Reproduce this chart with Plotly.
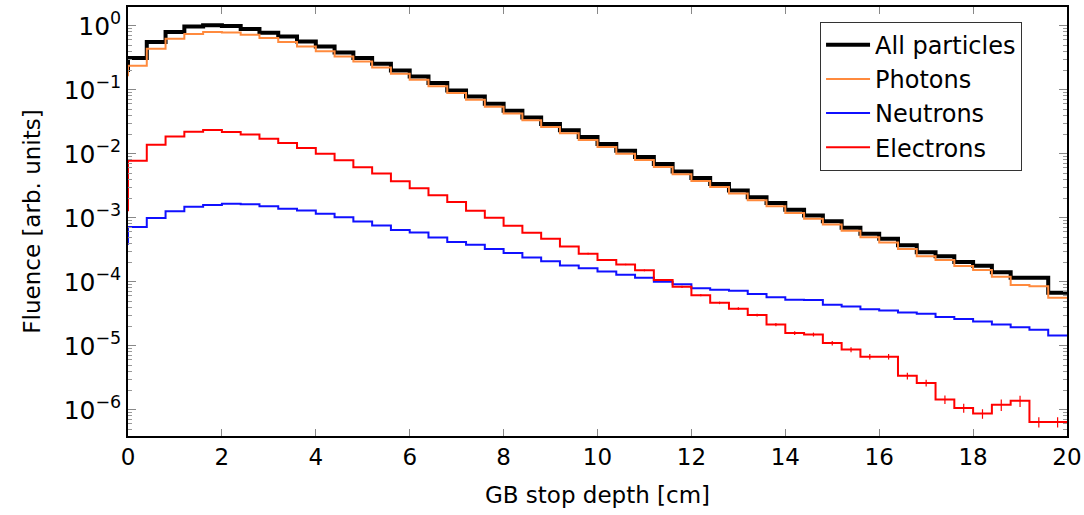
import numpy as np
import plotly.graph_objects as go

# bin edges: 50 bins of 0.4 cm from 0 to 20 cm
bin_width = 0.4
n_bins = 50
edges = np.round(np.arange(n_bins + 1) * bin_width, 3)
centers = edges[:-1] + bin_width / 2

all_start = 0.19
all_particles = [0.313, 0.556, 0.796, 0.977, 1.02, 0.99, 0.887, 0.778, 0.681, 0.569,
                 0.475, 0.383, 0.313, 0.255, 0.200, 0.161, 0.127, 0.0977, 0.0782, 0.0604,
                 0.0470, 0.0370, 0.0291, 0.0232, 0.0182, 0.0142, 0.0111, 0.00887, 0.00690, 0.00530,
                 0.00417, 0.00336, 0.00267, 0.00210, 0.00170, 0.00133, 0.00108, 0.000881, 0.000700, 0.000562,
                 0.000468, 0.000372, 0.000288, 0.000251, 0.000204, 0.000178, 0.000141, 0.000115, 0.000115, 0.0000676]

photon_start = 0.162
photons = [0.237, 0.437, 0.627, 0.741, 0.796, 0.787, 0.724, 0.641, 0.556, 0.475,
           0.398, 0.331, 0.277, 0.223, 0.178, 0.143, 0.113, 0.0887, 0.0698, 0.0543,
           0.0424, 0.0333, 0.0262, 0.0209, 0.0164, 0.0128, 0.0100, 0.0080, 0.00622, 0.00478,
           0.00376, 0.00302, 0.00240, 0.00188, 0.00151, 0.00119, 0.000966, 0.000785, 0.000624, 0.000495,
           0.000412, 0.000324, 0.000251, 0.000219, 0.000176, 0.000153, 0.000120, 0.0000891, 0.0000851, 0.0000562]

neutron_start = 0.00038
neutrons = [0.000714, 0.000989, 0.00126, 0.00148, 0.00158, 0.00166, 0.00162, 0.00151, 0.00138, 0.00130,
            0.00115, 0.00102, 0.000871, 0.000759, 0.000646, 0.000589, 0.000490, 0.000417, 0.000380, 0.000324,
            0.000282, 0.000240, 0.000209, 0.000180, 0.000162, 0.000145, 0.000129, 0.000115, 0.000100, 0.0000912,
            0.0000794, 0.0000750, 0.0000724, 0.0000646, 0.0000575, 0.0000525, 0.0000519, 0.0000437, 0.0000412, 0.0000372,
            0.0000355, 0.0000331, 0.0000316, 0.0000282, 0.0000263, 0.0000240, 0.0000214, 0.0000195, 0.0000178, 0.0000145]

electron_start = 0.00126
electrons = [0.00776, 0.0138, 0.0186, 0.0221, 0.0234, 0.0219, 0.0200, 0.0171, 0.0147, 0.0123,
             0.0100, 0.00794, 0.00617, 0.00490, 0.00372, 0.00288, 0.00224, 0.00176, 0.00129, 0.00100,
             0.000750, 0.000582, 0.000468, 0.000355, 0.000275, 0.000219, 0.000186, 0.000151, 0.000107, 0.0000832,
             0.0000617, 0.0000468, 0.0000380, 0.0000302, 0.0000214, 0.0000158, 0.0000150, 0.0000110, 0.00000871, 0.00000676,
             0.00000676, 0.00000339, 0.00000263, 0.00000145, 0.00000107, 0.000000871, 0.00000120, 0.00000138, 0.000000646, 0.000000646]

# relative statistical uncertainty on electrons (visible from bin 24 on)
electron_err_rel = [0.0] * 24 + [0.03, 0.03, 0.03, 0.035, 0.035, 0.04, 0.04, 0.045, 0.05, 0.05,
                                 0.06, 0.07, 0.07, 0.08, 0.09, 0.1, 0.1, 0.12, 0.12, 0.15,
                                 0.16, 0.17, 0.2, 0.2, 0.18, 0.18]

y_tick_vals = [1, 1e-1, 1e-2, 1e-3, 1e-4, 1e-5, 1e-6]
y_tick_text = ["10<sup>0</sup>", "10<sup>−1</sup>", "10<sup>−2</sup>", "10<sup>−3</sup>",
               "10<sup>−4</sup>", "10<sup>−5</sup>", "10<sup>−6</sup>"]
x_tick_vals = [0, 2, 4, 6, 8, 10, 12, 14, 16, 18, 20]

series = [
    ("All particles", all_start, all_particles, "#000000", 4),
    ("Photons", photon_start, photons, "#ff8a3d", 2),
    ("Neutrons", neutron_start, neutrons, "#1010ff", 2),
    ("Electrons", electron_start, electrons, "#ff0000", 2),
]

FONT = "DejaVu Sans, sans-serif"

fig = go.Figure()
for name, start, vals, color, width in series:
    xs = [edges[0]] + list(edges)
    ys = [start] + list(vals) + [vals[-1]]
    fig.add_trace(go.Scatter(x=xs, y=ys, mode="lines", name=name,
                             line=dict(color=color, width=width, shape="hv")))

err_idx = [i for i, e in enumerate(electron_err_rel) if e > 0]
fig.add_trace(go.Scatter(
    x=[centers[i] for i in err_idx],
    y=[electrons[i] for i in err_idx],
    mode="markers", marker=dict(size=1, color="rgba(0,0,0,0)"),
    error_y=dict(type="data", array=[electrons[i] * electron_err_rel[i] for i in err_idx],
                 color="#ff0000", thickness=1.2, width=0),
    showlegend=False, hoverinfo="skip"))

fig.update_layout(
    width=1084, height=515,
    margin=dict(l=128, r=17, t=7, b=79, autoexpand=False),
    paper_bgcolor="white", plot_bgcolor="white",
    font=dict(family=FONT, size=23, color="black"),
    legend=dict(x=0.737, y=0.966, xanchor="left", yanchor="top",
                bgcolor="white", bordercolor="#333333", borderwidth=1,
                font=dict(family=FONT, size=24), tracegroupgap=0, itemwidth=44),
    showlegend=True,
)
fig.update_xaxes(
    range=[0, 20], tickvals=x_tick_vals, ticks="inside", ticklen=7, tickcolor="#888888",
    showline=True, linecolor="black", linewidth=1.5, mirror="ticks", showgrid=False, zeroline=False,
    title=dict(text="GB stop depth [cm]", font=dict(family=FONT, size=23), standoff=18),
    tickfont=dict(family=FONT, size=23),
)
fig.update_yaxes(
    type="log", range=[-6.41, 0.293], tickvals=y_tick_vals, ticktext=y_tick_text,
    ticks="inside", ticklen=8, tickcolor="#888888",
    minor=dict(ticks="inside", ticklen=4, tickcolor="#999999", dtick="D1", showgrid=False),
    showline=True, linecolor="black", linewidth=1.5, mirror="ticks", showgrid=False, zeroline=False,
    title=dict(text="Fluence [arb. units]", font=dict(family=FONT, size=23), standoff=17),
    tickfont=dict(family=FONT, size=25),
)

fig.write_html(
    "out.html",
    config={"displayModeBar": False},
    post_script="document.body.style.margin='0';document.body.style.overflow='hidden';",
)
